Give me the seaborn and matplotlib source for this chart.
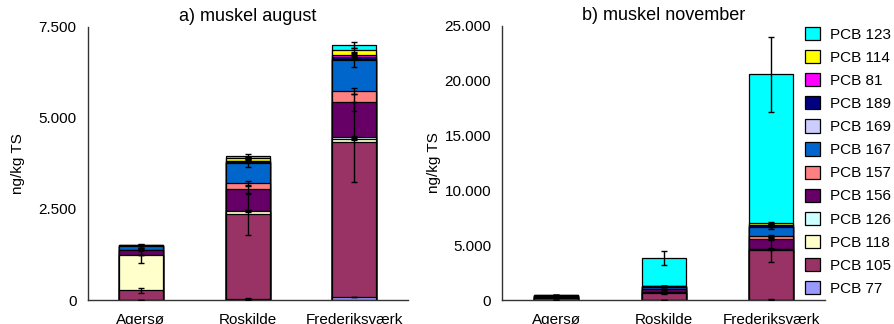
import matplotlib
matplotlib.use('Agg')
import pandas as pd
import matplotlib.pyplot as plt
import matplotlib.patches as mpatches
from matplotlib.ticker import FuncFormatter, FixedLocator
import seaborn as sns

# Stationer og kongenere (nederst -> øverst i stakken)
steder = ['Agersø', 'Roskilde', 'Frederiksværk']
kongenere = ['PCB 77', 'PCB 105', 'PCB 118', 'PCB 126', 'PCB 156', 'PCB 157',
             'PCB 167', 'PCB 169', 'PCB 189', 'PCB 81', 'PCB 114', 'PCB 123']
farver = ['#9999FF', '#993366', '#FFFFCC', '#CCFFFF', '#660066', '#FF8080',
          '#0066CC', '#CCCCFF', '#000080', '#FF00FF', '#FFFF00', '#00FFFF']

# a) muskel august - ng/kg TS, samme rækkefølge som kongenere
aug_agersoe = [5, 260, 960, 10, 130, 20, 90, 5, 15, 5, 10, 10]
aug_roskilde = [30, 2320, 90, 15, 580, 180, 550, 15, 30, 15, 70, 70]
aug_frederiksvaerk = [80, 4270, 65, 70, 945, 310, 850, 25, 60, 55, 135, 130]
aug_fejl_agersoe = [0, 60, 200, 0, 30, 10, 40, 0, 5, 0, 5, 10]
aug_fejl_roskilde = [20, 570, 30, 10, 100, 50, 110, 0, 10, 10, 30, 40]
aug_fejl_frederiksvaerk = [10, 1100, 20, 30, 230, 95, 185, 10, 20, 20, 50, 80]

# b) muskel november
nov_agersoe = [5, 170, 60, 5, 70, 20, 60, 5, 15, 5, 10, 50]
nov_roskilde = [10, 655, 30, 10, 270, 40, 180, 10, 40, 10, 30, 2515]
nov_frederiksvaerk = [40, 4520, 60, 60, 910, 240, 800, 40, 150, 50, 150, 13550]
nov_fejl_agersoe = [0, 20, 10, 0, 10, 0, 10, 0, 0, 0, 0, 10]
nov_fejl_roskilde = [0, 100, 10, 0, 50, 10, 50, 0, 10, 0, 10, 650]
nov_fejl_frederiksvaerk = [10, 1120, 30, 20, 150, 100, 150, 10, 50, 20, 100, 3400]


def lav_tabel(vaerdier, fejl):
    rows = []
    for sted, v, f in zip(steder, vaerdier, fejl):
        kum = 0
        for pcb, x, e in zip(kongenere, v, f):
            kum += x
            rows.append({'sted': sted, 'pcb': pcb, 'vaerdi': x, 'kum': kum, 'fejl': e})
    return pd.DataFrame(rows)


aug = lav_tabel([aug_agersoe, aug_roskilde, aug_frederiksvaerk],
                [aug_fejl_agersoe, aug_fejl_roskilde, aug_fejl_frederiksvaerk])
nov = lav_tabel([nov_agersoe, nov_roskilde, nov_frederiksvaerk],
                [nov_fejl_agersoe, nov_fejl_roskilde, nov_fejl_frederiksvaerk])

sns.set_style('white')
plt.rcParams['font.family'] = ['Liberation Sans', 'DejaVu Sans']
plt.rcParams['font.size'] = 11
plt.rcParams['text.color'] = 'black'
plt.rcParams['axes.labelcolor'] = 'black'
plt.rcParams['xtick.color'] = 'black'
plt.rcParams['ytick.color'] = 'black'

fig = plt.figure(figsize=(8.94, 3.24), dpi=100)
ax1 = fig.add_axes([0.098, 0.074, 0.358, 0.843])
ax2 = fig.add_axes([0.562, 0.074, 0.361, 0.847])


def tegn(ax, df, ymax, step, titel):
    # stablede søjler: tegn kumulative højder oppefra og ned
    for i in reversed(range(len(kongenere))):
        sub = df[df['pcb'] == kongenere[i]]
        sns.barplot(data=sub, x='sted', y='kum', order=steder, color=farver[i],
                    saturation=1, edgecolor='black', linewidth=0.9, width=0.41,
                    errorbar=None, ax=ax)
    for pcb in kongenere:
        sub = df[df['pcb'] == pcb].set_index('sted').loc[steder]
        ax.errorbar(x=range(len(steder)), y=sub['kum'], yerr=sub['fejl'], fmt='none',
                    ecolor='black', elinewidth=1, capsize=2.5, capthick=1, zorder=5)
    ax.set_xlim(-0.5, 2.5)
    ax.set_ylim(0, ymax)
    ax.set_yticks(range(0, ymax + 1, step))
    ax.yaxis.set_major_formatter(FuncFormatter(lambda v, p: f'{int(v):,}'.replace(',', '.')))
    ax.xaxis.set_major_locator(FixedLocator([0, 1, 2]))
    ax.set_xticklabels(steder)
    ax.xaxis.set_minor_locator(FixedLocator([-0.5, 0.5, 1.5, 2.5]))
    ax.tick_params(axis='x', which='major', length=0, pad=9, labelsize=11, labelcolor='black')
    ax.tick_params(axis='x', which='minor', length=5, width=1, color='#333333', direction='out')
    ax.tick_params(axis='y', length=5, width=1, color='#333333', direction='out', pad=3,
                   labelsize=11, labelcolor='black')
    ax.set_xlabel('')
    ax.set_ylabel('ng/kg TS', fontsize=11, color='black')
    ax.set_title(titel, fontsize=13, pad=4, color='black')
    sns.despine(ax=ax)
    for s in ['left', 'bottom']:
        ax.spines[s].set_color('#333333')
        ax.spines[s].set_linewidth(1)


tegn(ax1, aug, 7500, 2500, 'a) muskel august')
tegn(ax2, nov, 25000, 5000, 'b) muskel november')
ax1.yaxis.set_label_coords(-0.195, 0.5)
ax2.yaxis.set_label_coords(-0.19, 0.5)

handles = [mpatches.Patch(facecolor=c, edgecolor='black', linewidth=0.9, label=k)
           for k, c in zip(kongenere, farver)][::-1]
leg = fig.legend(handles=handles, loc='upper left', bbox_to_anchor=(805 / 894, 1 - 27 / 324),
                 frameon=False, fontsize=11, handlelength=0.95, handleheight=0.95,
                 handletextpad=0.7, labelspacing=0.54, borderpad=0, borderaxespad=0)
for t in leg.get_texts():
    t.set_color('black')

plt.savefig('out.png', dpi=100)
